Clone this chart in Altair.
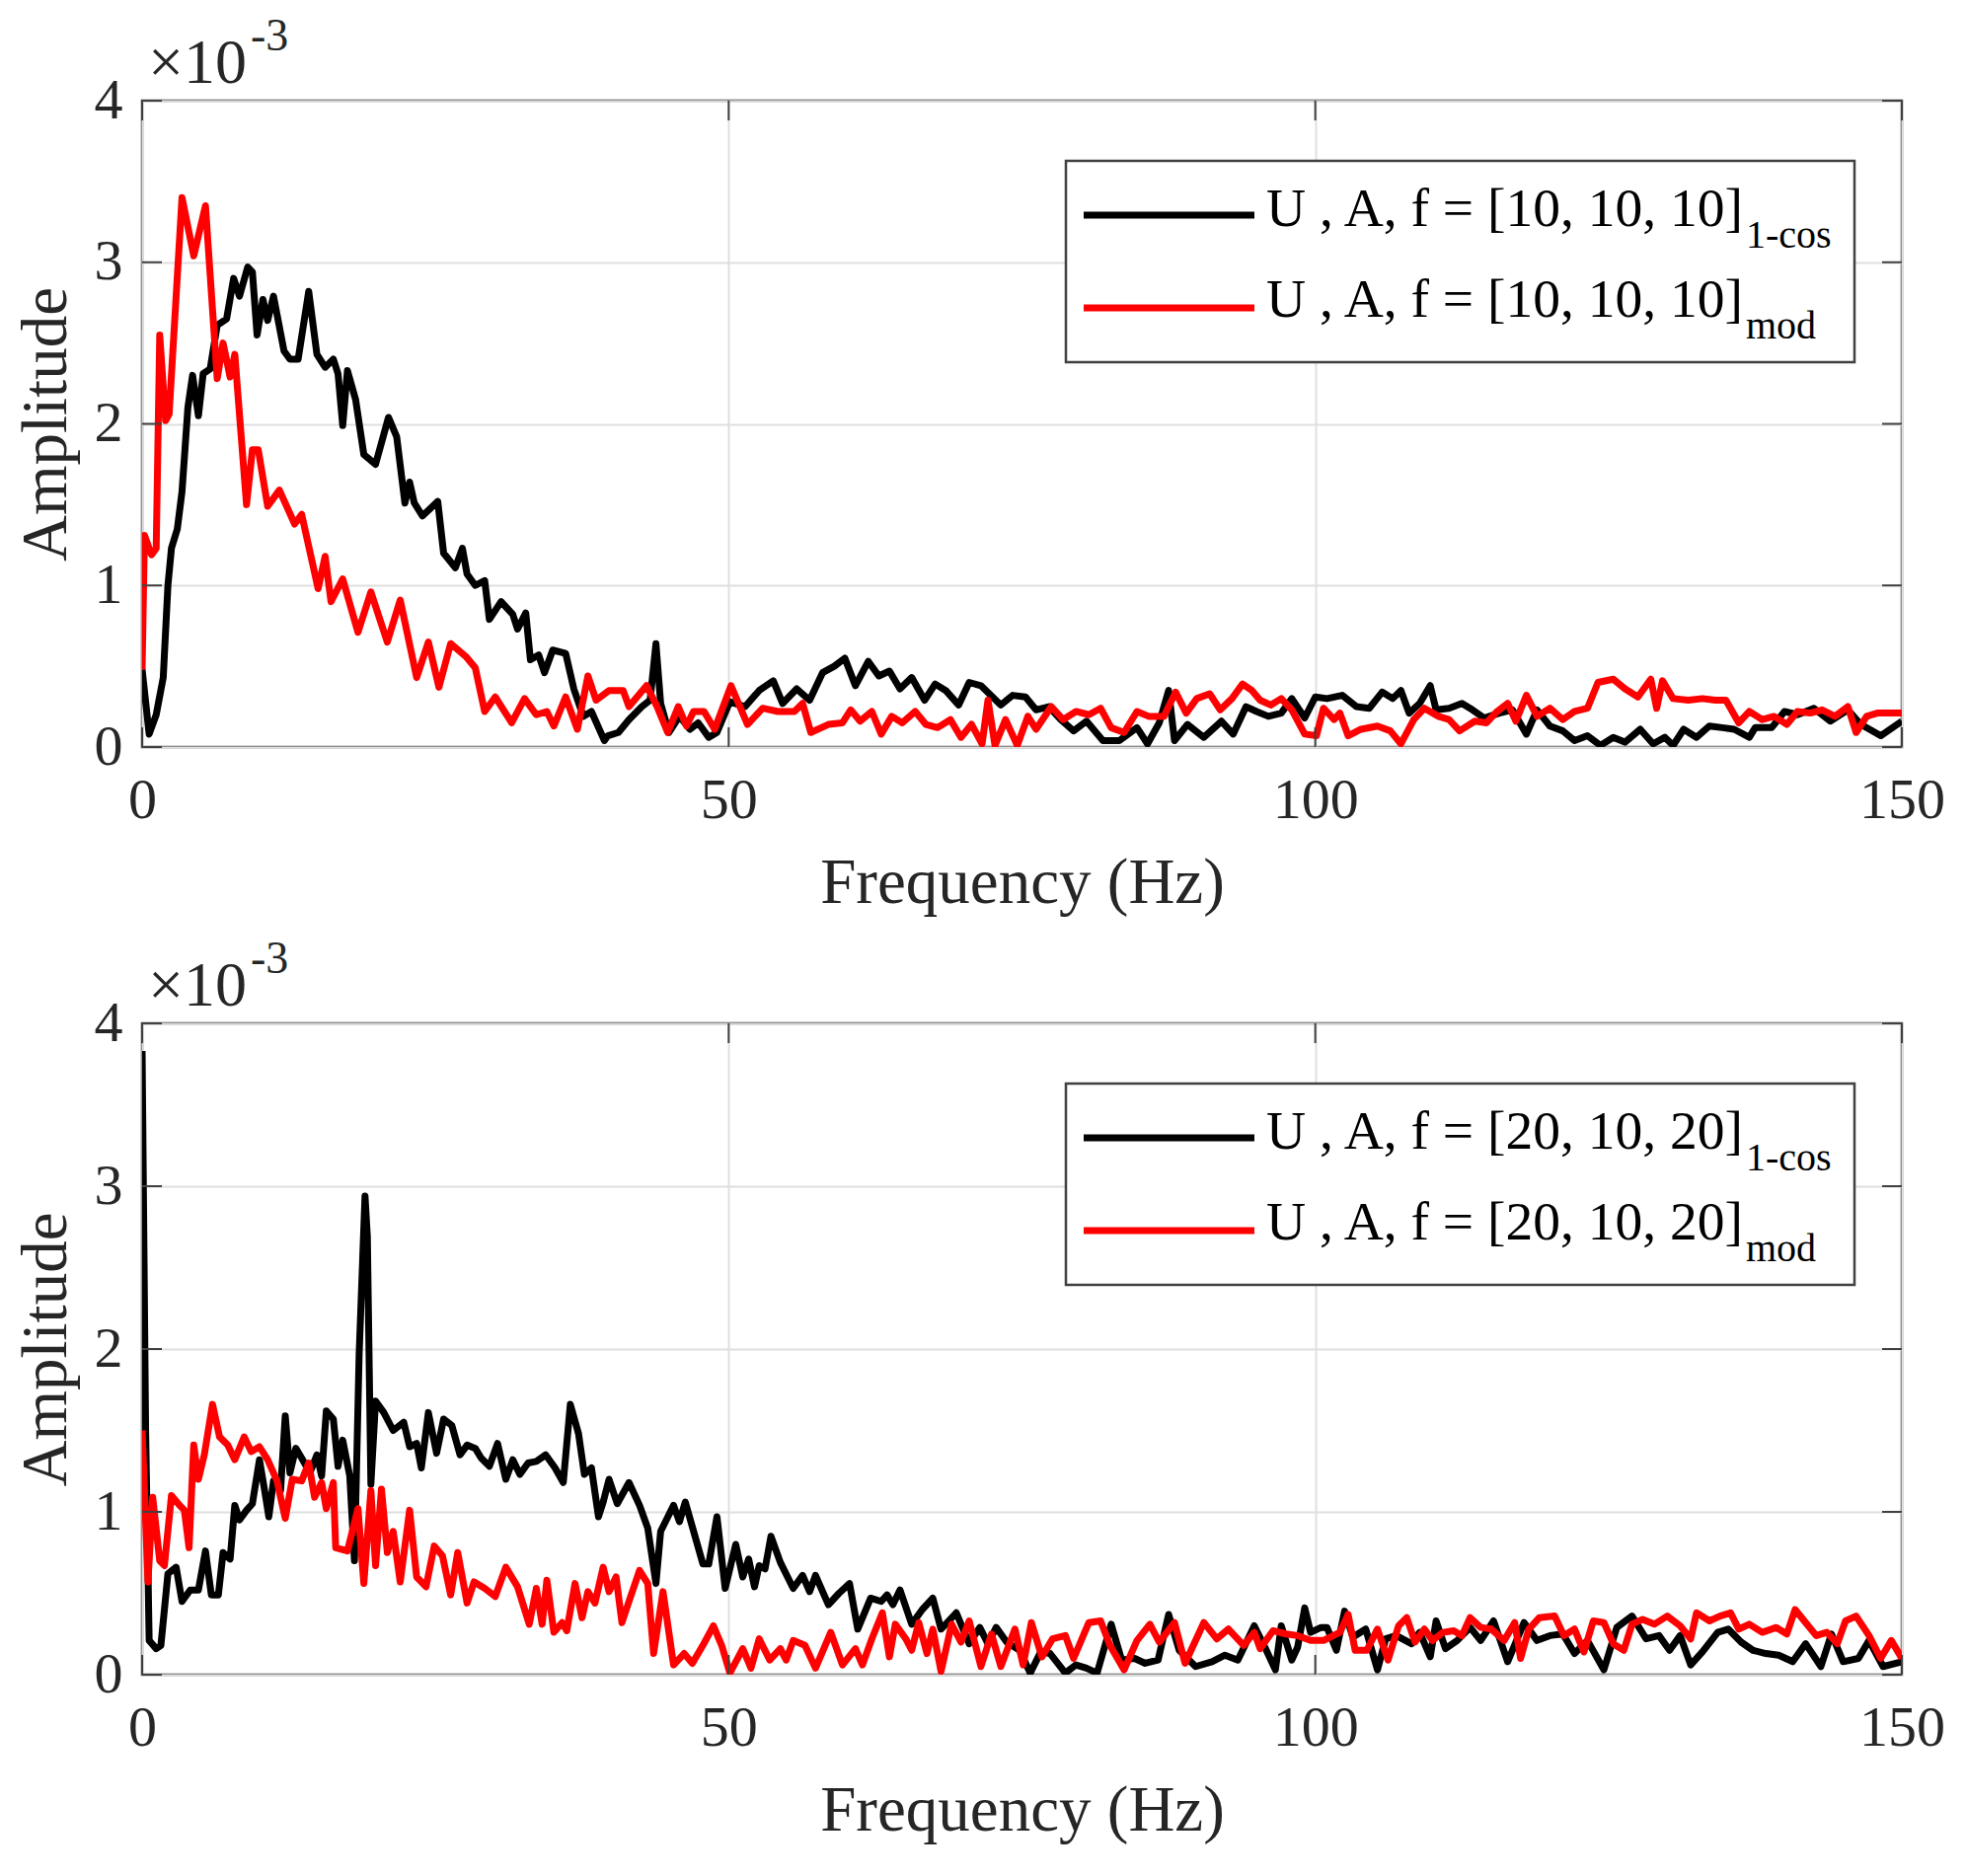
import altair as alt
import pandas as pd

FONT = "Liberation Serif"
W = 1783
H_TOP, H_BOT = 655, 660

x_ticks = [0, 50, 100, 150]
y_ticks = [0, 1, 2, 3, 4]
series = ["1-cos", "mod"]
series_colors = ["#000000", "#ff0000"]
legend_top = ["U , A, f = [10, 10, 10]", "U , A, f = [10, 10, 10]"]
legend_bottom = ["U , A, f = [20, 10, 20]", "U , A, f = [20, 10, 20]"]
legend_subs = ["1-cos", "mod"]

# ---- top panel, 1-cos (black) ----
top_1cos_f = [0, 0.6, 1.2, 1.8, 2.2, 2.5, 3.0, 3.4, 3.9, 4.3, 4.8, 5.2, 5.8, 6.4, 7.2, 7.8, 8.3, 9.0, 9.4, 9.8,
              10.3, 10.7, 11.2, 12.1, 12.6, 13.3, 14.2, 14.9, 15.6, 16.3, 16.7, 17.1, 17.5, 18.2, 18.9, 19.9,
              21.0, 21.7, 22.4, 22.8, 23.2, 23.9, 25.2, 25.7, 26.7, 27.3, 27.7, 28.4, 29.2, 29.6, 30.6, 31.6,
              32.0, 32.7, 33.1, 33.8, 34.3, 35.0, 36.1, 36.8, 37.6, 38.3, 39.4, 39.7, 40.6, 41.5, 42.6, 43.3,
              43.8, 44.2, 44.9, 45.8, 46.7, 47.4, 48.3, 49.0, 50.1, 51.4, 52.6, 53.8, 54.6, 55.8, 56.9, 58.0,
              59.0, 59.9, 60.8, 61.9, 62.8, 63.7, 64.6, 65.6, 66.7, 67.6, 68.5, 69.6, 70.5, 71.5, 73.2, 74.2,
              75.3, 76.2, 77.3, 78.3, 79.4, 80.5, 81.9, 83.3, 84.8, 85.7, 86.7, 87.5, 88.0, 89.1, 90.5, 92.0,
              93.0, 94.1, 95.0, 96.0, 97.1, 98.0, 99.1, 100.0, 101.0, 102.3, 103.5, 104.6, 105.7, 106.6, 107.3,
              108.0, 108.9, 109.8, 110.3, 111.4, 112.5, 113.4, 114.4, 115.7, 116.8, 118.0, 118.9, 120.0, 121.1,
              122.1, 123.2, 124.3, 125.4, 126.4, 127.7, 128.8, 129.8, 130.5, 131.4, 132.5, 133.6, 134.7, 135.7,
              137.0, 137.5, 138.9, 140.0, 141.1, 142.5, 143.9, 145.4, 146.5, 148.2, 150.0]
top_1cos_a = [0.48, 0.08, 0.2, 0.43, 1.0, 1.23, 1.35, 1.58, 2.1, 2.3, 2.05, 2.31, 2.34, 2.61, 2.65, 2.9, 2.79, 2.97, 2.94, 2.55,
              2.77, 2.64, 2.79, 2.45, 2.4, 2.4, 2.82, 2.43, 2.35, 2.4, 2.31, 1.99, 2.33, 2.15, 1.81, 1.75,
              2.04, 1.92, 1.51, 1.64, 1.51, 1.43, 1.52, 1.2, 1.11, 1.23, 1.07, 1.0, 1.03, 0.79, 0.9, 0.82,
              0.73, 0.83, 0.54, 0.57, 0.46, 0.6, 0.58, 0.36, 0.19, 0.22, 0.04, 0.07, 0.09, 0.17, 0.25, 0.29,
              0.64, 0.27, 0.09, 0.19, 0.11, 0.15, 0.06, 0.09, 0.28, 0.25, 0.35, 0.41, 0.27, 0.36, 0.29, 0.46,
              0.5, 0.55, 0.38, 0.53, 0.44, 0.47, 0.36, 0.43, 0.29, 0.39, 0.35, 0.26, 0.4, 0.38, 0.26, 0.32,
              0.31, 0.23, 0.25, 0.17, 0.1, 0.16, 0.04, 0.04, 0.12, 0.02, 0.15, 0.35, 0.04, 0.14, 0.06, 0.16,
              0.08, 0.25, 0.22, 0.19, 0.21, 0.3, 0.18, 0.31, 0.3, 0.32, 0.25, 0.24, 0.34, 0.3, 0.35,
              0.21, 0.27, 0.38, 0.23, 0.24, 0.27, 0.23, 0.18, 0.21, 0.23, 0.08, 0.23, 0.13, 0.1,
              0.04, 0.07, 0.01, 0.06, 0.03, 0.11, 0.02, 0.06, 0.01, 0.11, 0.06, 0.13, 0.12, 0.11,
              0.06, 0.12, 0.12, 0.22, 0.2, 0.24, 0.16, 0.23, 0.14, 0.07, 0.16]

# ---- top panel, mod (red) ----
top_mod_f = [0, 0.2, 0.8, 1.2, 1.5, 2.0, 2.3, 3.4, 4.4, 5.4, 6.4, 6.9, 7.5, 7.9, 8.9, 9.4, 9.9, 10.7, 11.7, 13.0,
             13.6, 15.0, 15.6, 16.1, 17.1, 18.4, 19.5, 20.9, 22.0, 23.4, 24.4, 25.3, 26.3, 27.6, 28.4, 29.2,
             30.1, 31.5, 32.6, 33.6, 34.5, 35.1, 36.1, 37.1, 38.0, 38.7, 39.8, 41.0, 41.5, 43.0, 43.9, 44.8,
             45.7, 46.4, 47.0, 47.9, 48.8, 50.2, 51.6, 52.9, 54.2, 55.6, 56.3, 57.0, 58.5, 59.7, 60.4, 61.2,
             62.2, 63.0, 63.9, 64.8, 65.9, 66.8, 67.8, 68.9, 69.8, 70.7, 71.6, 72.1, 72.7, 73.6, 74.6, 75.5,
             76.2, 77.5, 78.5, 79.6, 80.7, 81.7, 82.6, 83.7, 84.8, 85.8, 87.1, 88.1, 89.0, 89.9, 91.0, 91.9,
             92.9, 93.8, 94.6, 95.3, 96.2, 97.1, 98.0, 99.1, 100.1, 100.7, 101.6, 102.1, 102.8, 103.9, 105.3,
             106.4, 107.3, 108.4, 109.3, 110.5, 111.4, 112.3, 113.6, 114.6, 115.5, 116.4, 117.1, 118.0, 118.9,
             120.0, 121.1, 122.1, 123.2, 124.1, 125.4, 126.4, 127.5, 128.6, 129.1, 129.6, 130.5, 131.8, 133.0,
             134.1, 135.0, 136.1, 137.0, 138.1, 139.1, 140.2, 141.1, 142.2, 143.2, 144.3, 145.4, 146.1, 147.0,
             147.9, 150.0]
top_mod_a = [0.48, 1.31, 1.19, 1.23, 2.55, 2.02, 2.06, 3.4, 3.04, 3.35, 2.28, 2.5, 2.29, 2.43, 1.5, 1.84, 1.84, 1.49, 1.59, 1.38,
             1.44, 0.98, 1.18, 0.9, 1.04, 0.71, 0.96, 0.65, 0.91, 0.43, 0.65, 0.37, 0.64, 0.56, 0.49, 0.22,
             0.31, 0.15, 0.3, 0.2, 0.22, 0.13, 0.31, 0.11, 0.44, 0.29, 0.35, 0.35, 0.25, 0.38, 0.25, 0.09,
             0.25, 0.13, 0.22, 0.22, 0.11, 0.38, 0.14, 0.24, 0.22, 0.22, 0.27, 0.09, 0.14, 0.15, 0.23, 0.16,
             0.22, 0.08, 0.19, 0.15, 0.22, 0.14, 0.12, 0.17, 0.06, 0.14, 0.02, 0.29, 0.01, 0.17, 0.01, 0.19,
             0.11, 0.25, 0.17, 0.22, 0.2, 0.24, 0.12, 0.09, 0.22, 0.19, 0.19, 0.34, 0.21, 0.3, 0.33, 0.23,
             0.3, 0.39, 0.35, 0.29, 0.26, 0.3, 0.23, 0.08, 0.07, 0.24, 0.17, 0.21, 0.07, 0.11, 0.13,
             0.1, 0.02, 0.17, 0.24, 0.19, 0.17, 0.1, 0.16, 0.15, 0.22, 0.27, 0.16, 0.32, 0.19,
             0.24, 0.17, 0.22, 0.24, 0.4, 0.42, 0.36, 0.31, 0.42, 0.24, 0.41, 0.3, 0.29, 0.3,
             0.29, 0.29, 0.15, 0.22, 0.17, 0.19, 0.14, 0.22, 0.21, 0.23, 0.19, 0.25, 0.09, 0.19,
             0.21, 0.21]

# ---- bottom panel, 1-cos (black) ----
bot_1cos_f = [0, 0.3, 0.6, 1.2, 1.6, 2.2, 2.9, 3.4, 4.1, 4.8, 5.4, 5.9, 6.5, 6.9, 7.5, 7.9, 8.3, 8.9, 9.4, 10.0,
              10.4, 10.8, 11.2, 11.8, 12.2, 12.6, 13.1, 13.6, 14.3, 14.9, 15.3, 15.7, 16.3, 16.7, 17.1, 17.7,
              18.1, 18.5, 19.0, 19.2, 19.5, 19.9, 20.6, 21.4, 22.3, 22.8, 23.4, 23.8, 24.4, 25.1, 25.7, 26.4,
              27.1, 27.7, 28.4, 28.9, 29.6, 30.3, 31.0, 31.6, 32.2, 32.9, 33.6, 34.4, 35.2, 35.9, 36.5, 37.2,
              37.7, 38.3, 38.9, 39.3, 39.8, 40.5, 41.5, 42.4, 43.1, 43.8, 44.2, 45.3, 45.8, 46.3, 47.8, 48.3,
              49.0, 49.7, 50.6, 51.2, 51.7, 52.2, 52.6, 53.1, 53.6, 54.4, 55.5, 56.3, 56.9, 57.4, 58.5, 59.4,
              60.3, 61.0, 62.1, 63.0, 63.5, 64.0, 64.6, 65.6, 66.5, 67.4, 68.1, 69.4, 70.5, 71.4, 72.1, 72.8,
              73.7, 74.8, 75.7, 76.6, 77.4, 78.7, 79.6, 80.5, 81.4, 82.6, 83.5, 84.6, 85.5, 86.6, 87.5, 88.4,
              89.8, 91.2, 92.3, 93.4, 94.8, 95.7, 96.6, 97.1, 98.0, 98.5, 99.1, 99.6, 100.5, 101.0, 101.8,
              102.5, 103.2, 104.3, 105.3, 106.0, 106.9, 108.2, 108.9, 109.8, 110.3, 111.1, 112.1, 113.2, 114.1,
              115.2, 116.4, 117.8, 118.9, 120.0, 121.1, 122.1, 123.2, 124.6, 125.7, 127.0, 128.2, 129.3, 130.2,
              131.1, 132.0, 133.0, 134.3, 135.2, 136.3, 137.3, 138.4, 139.5, 140.7, 141.8, 143.1, 144.0, 145.0,
              146.3, 147.2, 148.4, 150.0]
bot_1cos_a = [3.83, 1.5, 0.21, 0.16, 0.18, 0.62, 0.66, 0.45, 0.52, 0.52, 0.76, 0.49, 0.49, 0.75, 0.71, 1.04, 0.95, 1.01, 1.05, 1.32,
              1.15, 0.97, 1.19, 1.13, 1.59, 1.24, 1.39, 1.33, 1.24, 1.35, 1.22, 1.62, 1.57, 1.28, 1.44, 1.22,
              0.7, 1.97, 2.94, 2.69, 1.17, 1.68, 1.61, 1.5, 1.55, 1.4, 1.42, 1.27, 1.61, 1.36, 1.57, 1.53,
              1.35, 1.41, 1.39, 1.33, 1.28, 1.42, 1.2, 1.32, 1.23, 1.3, 1.31, 1.35, 1.27, 1.18, 1.66, 1.48,
              1.23, 1.27, 0.97, 1.06, 1.2, 1.05, 1.18, 1.04, 0.9, 0.56, 0.88, 1.04, 0.94, 1.06, 0.68, 0.68,
              0.97, 0.53, 0.8, 0.6, 0.71, 0.54, 0.67, 0.65, 0.85, 0.69, 0.53, 0.61, 0.51, 0.61, 0.43, 0.5,
              0.56, 0.28, 0.47, 0.45, 0.49, 0.43, 0.52, 0.31, 0.4, 0.47, 0.28, 0.38, 0.19, 0.29, 0.19, 0.29,
              0.2, 0.15, 0.01, 0.14, 0.13, 0.01, 0.06, 0.04, 0.01, 0.31, 0.09, 0.1, 0.07, 0.09, 0.37, 0.15,
              0.05, 0.08, 0.12, 0.09, 0.3, 0.17, 0.03, 0.3, 0.09, 0.17, 0.41, 0.26, 0.29, 0.29, 0.15,
              0.39, 0.23, 0.28, 0.03, 0.22, 0.24, 0.19, 0.26, 0.11, 0.33, 0.16, 0.21, 0.29, 0.21,
              0.33, 0.08, 0.32, 0.21, 0.24, 0.25, 0.13, 0.21, 0.03, 0.29, 0.36, 0.22, 0.24, 0.15,
              0.24, 0.06, 0.14, 0.26, 0.28, 0.2, 0.15, 0.13, 0.12, 0.08, 0.19, 0.05, 0.25, 0.08,
              0.1, 0.21, 0.05, 0.08]

# ---- bottom panel, mod (red) ----
bot_mod_f = [0, 0.5, 0.9, 1.5, 1.9, 2.5, 3.2, 3.6, 4.0, 4.4, 4.8, 5.3, 6.0, 6.6, 7.3, 7.9, 8.7, 9.3, 10.0, 10.7,
             11.5, 12.2, 12.8, 13.6, 14.2, 14.7, 15.3, 15.7, 16.3, 16.5, 17.5, 18.4, 18.9, 19.5, 19.9, 20.4,
             20.9, 21.4, 22.0, 22.8, 23.4, 24.2, 24.9, 25.6, 26.3, 26.9, 27.7, 28.3, 29.2, 30.1, 31.0, 32.0,
             33.0, 33.6, 34.1, 34.5, 35.1, 35.8, 36.2, 36.9, 37.5, 38.0, 38.6, 39.3, 39.8, 40.4, 40.9, 41.5,
             42.4, 43.1, 43.6, 44.4, 45.3, 46.2, 46.9, 47.8, 48.7, 49.4, 50.1, 51.2, 51.9, 52.6, 53.5, 54.4,
             54.9, 55.5, 56.5, 57.4, 58.7, 59.7, 60.8, 61.4, 62.2, 63.1, 63.7, 64.2, 65.1, 65.6, 66.2, 66.9,
             67.4, 68.1, 69.0, 69.8, 70.5, 71.5, 72.4, 73.2, 74.4, 75.1, 75.8, 76.7, 77.6, 78.7, 79.4, 80.7,
             81.7, 82.5, 83.7, 84.8, 85.9, 86.7, 88.0, 88.9, 90.5, 91.6, 92.6, 93.9, 94.8, 95.3, 96.4, 97.5,
             98.5, 99.6, 100.7, 102.1, 102.8, 103.4, 104.4, 105.3, 106.2, 107.1, 107.8, 108.5, 109.3, 110.0,
             110.9, 111.8, 112.5, 113.2, 114.1, 115.0, 116.1, 117.0, 117.5, 118.2, 119.1, 120.4, 121.2, 122.1,
             122.9, 123.7, 124.6, 125.4, 126.3, 127.0, 127.9, 128.9, 130.0, 131.1, 132.0, 132.5, 133.6, 134.5,
             135.4, 136.1, 137.0, 138.1, 139.3, 140.2, 140.9, 141.8, 142.7, 143.6, 144.5, 145.2, 146.1, 147.2,
             148.2, 149.1, 150.0]
bot_mod_a = [1.5, 0.57, 1.09, 0.7, 0.67, 1.1, 1.04, 1.01, 0.78, 1.41, 1.2, 1.35, 1.66, 1.46, 1.41, 1.32, 1.46, 1.37, 1.4, 1.32,
             1.19, 0.96, 1.2, 1.19, 1.3, 1.09, 1.18, 1.02, 1.18, 0.78, 0.76, 1.02, 0.56, 1.13, 0.67, 1.14,
             0.75, 0.88, 0.57, 1.01, 0.6, 0.54, 0.79, 0.73, 0.49, 0.75, 0.44, 0.57, 0.53, 0.48, 0.66, 0.54,
             0.31, 0.53, 0.31, 0.58, 0.26, 0.32, 0.27, 0.56, 0.35, 0.51, 0.44, 0.66, 0.51, 0.6, 0.32, 0.45,
             0.64, 0.56, 0.13, 0.51, 0.06, 0.13, 0.07, 0.18, 0.3, 0.18, 0.01, 0.16, 0.04, 0.22, 0.09, 0.16,
             0.09, 0.21, 0.18, 0.04, 0.26, 0.06, 0.16, 0.06, 0.22, 0.38, 0.11, 0.31, 0.22, 0.15, 0.32, 0.13,
             0.28, 0.02, 0.31, 0.2, 0.33, 0.05, 0.25, 0.05, 0.28, 0.06, 0.32, 0.11, 0.22, 0.24, 0.1, 0.32,
             0.33, 0.18, 0.03, 0.21, 0.31, 0.2, 0.32, 0.07, 0.32, 0.22, 0.28, 0.18, 0.26, 0.16, 0.27, 0.25,
             0.24, 0.21, 0.21, 0.26, 0.37, 0.15, 0.15, 0.28, 0.09, 0.3, 0.35, 0.2, 0.28, 0.21,
             0.26, 0.27, 0.24, 0.35, 0.29, 0.28, 0.21, 0.32, 0.1, 0.28, 0.35, 0.36, 0.24, 0.28,
             0.14, 0.33, 0.32, 0.19, 0.15, 0.31, 0.34, 0.31, 0.36, 0.3, 0.22, 0.38, 0.33, 0.36,
             0.38, 0.28, 0.31, 0.26, 0.29, 0.25, 0.4, 0.32, 0.24, 0.26, 0.19, 0.33, 0.36, 0.24,
             0.1, 0.21, 0.1]

xscale = alt.Scale(domain=[0, 150], nice=False, zero=False)
yscale = alt.Scale(domain=[0, 4], nice=False, zero=False)
AXIS_COLOR = "#262626"
BOX = "#404040"


def panel(f1, a1, f2, a2, labels, H):
    df = pd.concat([
        pd.DataFrame({"f": f1, "a": a1, "s": series[0]}),
        pd.DataFrame({"f": f2, "a": a2, "s": series[1]}),
    ], ignore_index=True)
    xt = pd.DataFrame({"f": x_ticks})
    yt = pd.DataFrame({"a": y_ticks})
    one = pd.DataFrame({"k": [0]})

    lines = alt.Chart(df).mark_line(strokeWidth=7, strokeJoin="round", clip=True).encode(
        x=alt.X("f:Q", scale=xscale,
                axis=alt.Axis(values=x_ticks, format="d", title="Frequency (Hz)",
                              labelPadding=25, titlePadding=23)),
        y=alt.Y("a:Q", scale=yscale,
                axis=alt.Axis(values=y_ticks, format="d", title="Amplitude",
                              labelPadding=20, titlePadding=15)),
        color=alt.Color("s:N", scale=alt.Scale(domain=series, range=series_colors), legend=None),
    )
    tl = alt.Chart(yt).mark_rule(color=BOX, strokeWidth=2).encode(
        y=alt.Y("a:Q", scale=yscale), x=alt.value(0), x2=alt.value(20))
    tr = alt.Chart(yt).mark_rule(color=BOX, strokeWidth=2).encode(
        y=alt.Y("a:Q", scale=yscale), x=alt.value(W - 20), x2=alt.value(W))
    tb = alt.Chart(xt).mark_rule(color=BOX, strokeWidth=2).encode(
        x=alt.X("f:Q", scale=xscale), y=alt.value(H - 20), y2=alt.value(H))
    tt = alt.Chart(xt).mark_rule(color=BOX, strokeWidth=2).encode(
        x=alt.X("f:Q", scale=xscale), y=alt.value(0), y2=alt.value(20))

    box = alt.Chart(one).mark_rect(fill="white", stroke=BOX, strokeWidth=2.5).encode(
        x=alt.value(936), x2=alt.value(1735), y=alt.value(61), y2=alt.value(265))
    leg = [box]
    for i, (yl, yb) in enumerate([(116, 127), (210, 219)]):
        leg.append(alt.Chart(one).mark_rule(color=series_colors[i], strokeWidth=7).encode(
            x=alt.value(954), x2=alt.value(1127), y=alt.value(yl)))
        leg.append(alt.Chart(one).mark_text(align="left", baseline="alphabetic", font=FONT,
                                            fontSize=55.5, color="#000000").encode(
            x=alt.value(1139), y=alt.value(yb), text=alt.value(labels[i])))
        leg.append(alt.Chart(one).mark_text(align="left", baseline="alphabetic", font=FONT,
                                            fontSize=40, color="#000000").encode(
            x=alt.value(1625), y=alt.value(yb + 22), text=alt.value(legend_subs[i])))

    exp1 = alt.Chart(one).mark_text(align="left", baseline="alphabetic", font=FONT,
                                    fontSize=64, color=AXIS_COLOR).encode(
        x=alt.value(6), y=alt.value(-18), text=alt.value("×10"))
    exp2 = alt.Chart(one).mark_text(align="left", baseline="alphabetic", font=FONT,
                                    fontSize=46, color=AXIS_COLOR).encode(
        x=alt.value(110), y=alt.value(-51), text=alt.value("-3"))

    return alt.layer(lines, tl, tr, tb, tt, *leg, exp1, exp2).properties(width=W, height=H)


top = panel(top_1cos_f, top_1cos_a, top_mod_f, top_mod_a, legend_top, H_TOP)
bottom = panel(bot_1cos_f, bot_1cos_a, bot_mod_f, bot_mod_a, legend_bottom, H_BOT)

chart = alt.vconcat(top, bottom, spacing=280, bounds="flush").properties(
    padding={"left": 4, "top": 4, "right": 5, "bottom": 5},
    background="white",
).configure_view(
    stroke=BOX, strokeWidth=2.5
).configure_axis(
    labelFont=FONT, labelFontSize=58, labelColor=AXIS_COLOR,
    titleFont=FONT, titleFontSize=65, titleFontWeight="normal", titleColor=AXIS_COLOR,
    grid=True, gridColor="#dfdfdf", gridWidth=2,
    domain=False, ticks=False, labelFlush=False,
)

chart.save("out.html", embed_options={"renderer": "svg", "actions": False})
